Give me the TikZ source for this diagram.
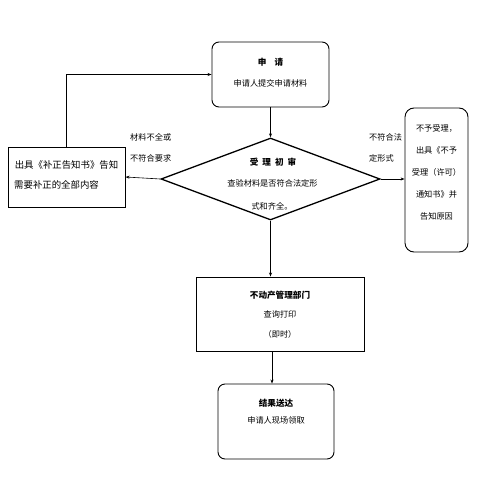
\documentclass[tikz,border=0pt]{standalone}
\usepackage{fontspec}
\setmainfont{Noto Sans CJK SC}
\usetikzlibrary{shapes.geometric,arrows.meta}
\begin{document}
\begin{tikzpicture}[x=1pt,y=-1pt,
  box/.style={draw=black,line width=0.9pt,inner sep=0pt},
  rbox/.style={box,rounded corners=7pt},
  txt/.style={inner sep=0pt,font=\fontsize{8.2}{10}\selectfont},
  btxt/.style={txt,font=\fontsize{8.6}{10}\selectfont\bfseries},
  arr/.style={-{Stealth[length=4pt,width=3pt]},line width=0.6pt}]
\useasboundingbox (0,0) rectangle (497,497);
% boxes
\node[rbox,minimum width=117pt,minimum height=65pt] (top) at (270.5,74.5) {};
\node[box,minimum width=117pt,minimum height=60pt] (left) at (66.5,177) {};
\node[draw=black,line width=1.3pt,diamond,inner sep=0pt,minimum width=219pt,minimum height=82pt] (dia) at (270.5,179) {};
\node[rbox,rounded corners=9pt,minimum width=63pt,minimum height=144pt] (right) at (436.5,180) {};
\node[box,minimum width=168pt,minimum height=74pt] (mid) at (280,314) {};
\node[rbox,minimum width=116pt,minimum height=75pt] (bot) at (276,421.5) {};
% texts
\node[btxt] (t1) at (270.5,62) {申\hspace{8pt}请};
\node[txt] (t2) at (270.5,83) {申请人提交申请材料};
\node[txt,font=\fontsize{9.4}{10}\selectfont] (l1) at (66.5,165) {出具《补正告知书》告知};
\node[txt,font=\fontsize{9.4}{10}\selectfont,anchor=west] (l2) at (14,185) {需要补正的全部内容};
\node[btxt] (d1) at (273,162) {受\hspace{4pt}理\hspace{4pt}初\hspace{4pt}审};
\node[txt] (d2) at (272.5,183) {查验材料是否符合法定形};
\node[txt] (d3) at (272,206) {式和齐全。};
\node[txt] (r1) at (436.5,128) {不予受理，};
\node[txt] (r2) at (436.5,150) {出具《不予};
\node[txt] (r3) at (436.5,172) {受理（许可）};
\node[txt] (r4) at (436.5,194) {通知书》并};
\node[txt] (r5) at (436.5,216) {告知原因};
\node[btxt] (m1) at (280,295) {不动产管理部门};
\node[txt] (m2) at (280,314) {查询打印};
\node[txt] (m3) at (280,334) {（即时）};
\node[btxt] (b1) at (276,403) {结果送达};
\node[txt] (b2) at (276,420) {申请人现场领取};
\node[txt,anchor=west] (a1) at (130,137) {材料不全或};
\node[txt,anchor=west] (a2) at (130,158) {不符合要求};
\node[txt,anchor=west] (c1) at (369,137) {不符合法};
\node[txt,anchor=west] (c2) at (369,158) {定形式};
% connectors
\coordinate (x1) at (272,0);
\draw[arr] (top.south) -- (dia.north);
\draw[arr] (dia.west) -- (left.east);
\draw[arr] (dia.east) -- (right.west |- dia.east);
\draw[arr] (left.north) |- (top.west);
\draw[arr] (dia.south) -- (dia.south |- mid.north);
\draw[arr] (mid.south -| x1) -- (bot.north -| x1);
\end{tikzpicture}
\end{document}
